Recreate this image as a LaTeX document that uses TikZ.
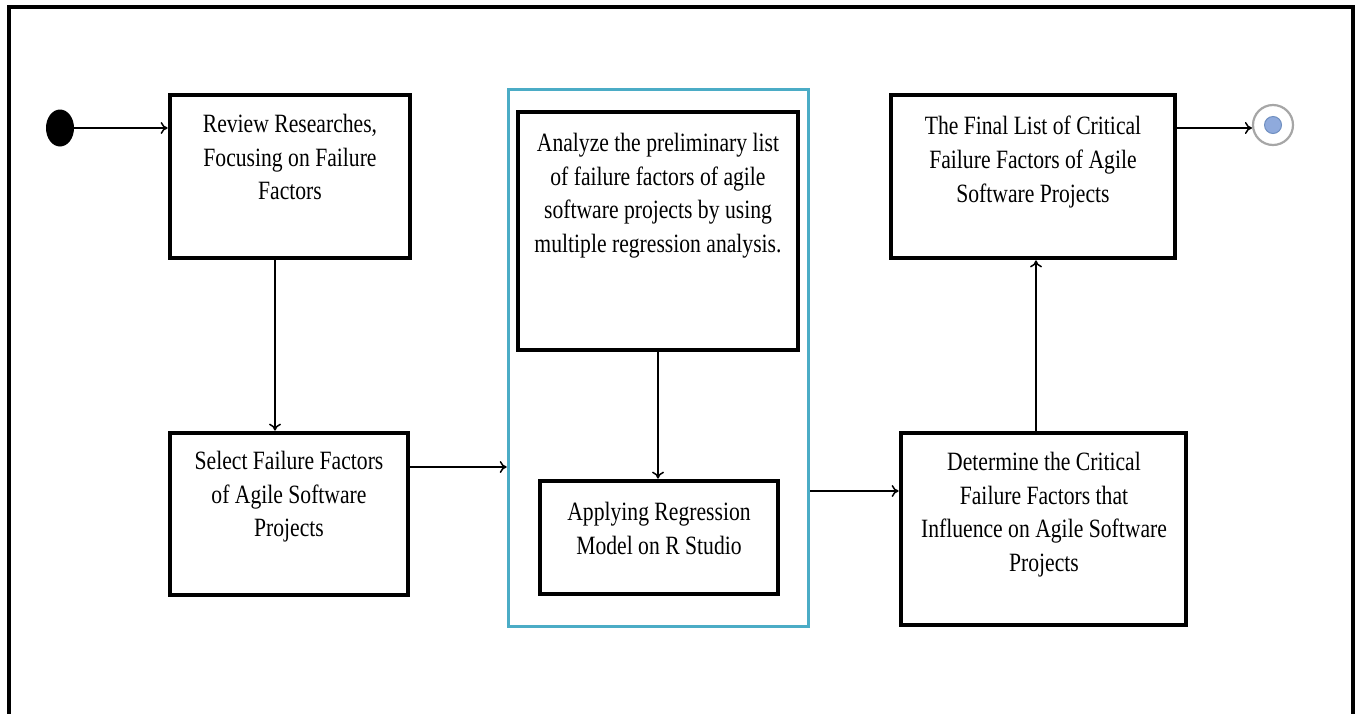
\documentclass[tikz,border=0pt]{standalone}
\usepackage{fontspec}
\setmainfont[FakeStretch=0.82]{Liberation Serif}
\usetikzlibrary{arrows.meta,fit,shapes.geometric}
\definecolor{bluebox}{HTML}{4BACC6}
\definecolor{endfill}{HTML}{8FAADC}
\definecolor{endedge}{HTML}{6F8FC0}
\begin{document}
\begin{tikzpicture}[x=0.5pt,y=-0.5pt,
  stepbox/.style={draw=black, line width=2.4pt, inner sep=0pt, fill=white},
  groupbox/.style={draw=bluebox, line width=1.8pt, inner sep=0pt},
  txt/.style={align=center, inner sep=0pt, anchor=north,
    font=\fontsize{13.2}{16.8}\selectfont},
  conn/.style={-{To[length=3.5pt,width=6pt]}, line width=0.75pt}]
\useasboundingbox (0,0) rectangle (1360,713);
% outer frame
\draw[line width=2.3pt] (9,730) -- (9,7) -- (1353,7) -- (1353,730);
% group container
\node[groupbox, fit={(508.5,89.5) (808.5,626.5)}] (grp) {};
% boxes
\node[stepbox, fit={(170,95) (410,258)}] (b1) {};
\node[stepbox, fit={(170,433) (408,595)}] (b2) {};
\node[stepbox, fit={(518,112) (798,350)}] (b3) {};
\node[stepbox, fit={(540,481) (778,594)}] (b4) {};
\node[stepbox, fit={(901,433) (1186,625)}] (b5) {};
\node[stepbox, fit={(891,95) (1175,258)}] (b6) {};
% texts
\node[txt] (t1) at (290,114) {Review Researches,\\Focusing on Failure\\Factors};
\node[txt] (t2) at (289,451) {Select Failure Factors\\of Agile Software\\Projects};
\node[txt] (t3) at (658,133) {Analyze the preliminary list\\of failure factors of agile\\software projects by using\\multiple regression analysis.};
\node[txt] (t4) at (659,502) {Applying Regression\\Model on R Studio};
\node[txt] (t5) at (1044,452) {Determine the Critical\\Failure Factors that\\Influence on Agile Software\\Projects};
\node[txt] (t6) at (1033,116) {The Final List of Critical\\Failure Factors of Agile\\Software Projects};
% start and end
\node[ellipse, fill=black, inner sep=0pt, minimum width=14pt, minimum height=18.5pt] (start) at (60,128) {};
\node[circle, draw=gray!70, line width=1.1pt, fill=white, minimum size=20pt, inner sep=0pt] (endc) at (1273,125) {};
\node[circle, fill=endfill, draw=endedge, line width=0.5pt, minimum size=8.5pt, inner sep=0pt] (endi) at (endc.center) {};
% helper coordinates
\coordinate (x275) at (275,0);
\coordinate (y467) at (0,467);
\coordinate (y491) at (0,491);
\coordinate (x1036) at (1036,0);
\coordinate (y128) at (0,128);
% connectors
\draw[conn] (start.east) -- (start.east -| b1.west);
\draw[conn] (b1.south -| x275) -- (b2.north -| x275);
\draw[conn] (b2.east |- y467) -- (grp.west |- y467);
\draw[conn] (b3.south) -- (b4.north -| b3.south);
\draw[conn] (grp.east |- y491) -- (b5.west |- y491);
\draw[conn] (b5.north -| x1036) -- (b6.south -| x1036);
\draw[conn] (b6.east |- y128) -- (endc.west |- y128);
\end{tikzpicture}
\end{document}
